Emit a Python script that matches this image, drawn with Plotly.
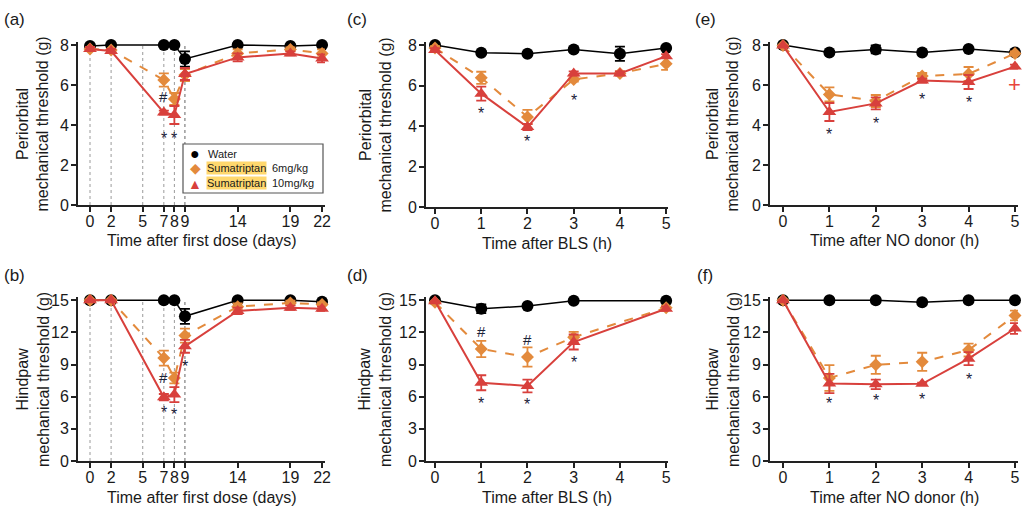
import plotly.graph_objects as go

W, H = 1036, 521

# ---------------- data ----------------
# (a) Periorbital, days after first dose
days = [0, 2, 7, 8, 9, 14, 19, 22]
dose_days = [0, 2, 5, 7, 8, 9]
a_water = [7.95, 8.0, 8.0, 8.0, 7.3, 8.0, 7.95, 8.0]
a_water_err = [0, 0, 0, 0, 0.38, 0, 0, 0]
a_s6 = [7.8, 7.75, 6.25, 5.3, 6.5, 7.58, 7.78, 7.58]
a_s6_err = [0.05, 0.05, 0.33, 0.3, 0.3, 0.2, 0.1, 0.2]
a_s10 = [7.8, 7.7, 4.62, 4.5, 6.55, 7.38, 7.58, 7.33]
a_s10_err = [0.1, 0.1, 0.1, 0.45, 0.3, 0.2, 0.1, 0.2]

# (b) Hindpaw, days after first dose
b_water = [15.0, 15.0, 15.0, 15.0, 13.5, 15.0, 15.0, 14.85]
b_water_err = [0, 0, 0, 0, 0.7, 0, 0, 0.1]
b_s6 = [15.0, 15.0, 9.6, 7.75, 11.7, 14.4, 14.75, 14.6]
b_s6_err = [0, 0, 0.7, 0.5, 0.65, 0.3, 0.2, 0.2]
b_s10 = [15.0, 15.0, 5.95, 6.2, 10.7, 14.0, 14.3, 14.2]
b_s10_err = [0, 0, 0.3, 0.7, 0.6, 0.3, 0.2, 0.2]

# (c) Periorbital, hours after BLS
hours = [0, 1, 2, 3, 4, 5]
c_water = [8.0, 7.62, 7.57, 7.78, 7.57, 7.85]
c_water_err = [0, 0.05, 0.05, 0.1, 0.35, 0.1]
c_s6 = [7.85, 6.38, 4.45, 6.3, 6.6, 7.07]
c_s6_err = [0.1, 0.3, 0.35, 0.1, 0.1, 0.3]
c_s10 = [7.75, 5.6, 3.95, 6.6, 6.6, 7.45]
c_s10_err = [0.1, 0.35, 0.15, 0.1, 0.1, 0.1]

# (d) Hindpaw, hours after BLS
hours_d = [0, 1, 2, 3, 5]
d_water = [15.0, 14.2, 14.45, 14.95, 14.95]
d_water_err = [0, 0.4, 0.1, 0.1, 0]
d_s6 = [14.8, 10.45, 9.7, 11.55, 14.3]
d_s6_err = [0, 0.75, 0.9, 0.5, 0.2]
d_s10 = [14.9, 7.3, 7.0, 11.1, 14.2]
d_s10_err = [0, 0.7, 0.6, 0.7, 0.2]

# (e) Periorbital, hours after NO donor
e_water = [8.0, 7.63, 7.78, 7.63, 7.8, 7.63]
e_water_err = [0, 0.05, 0.2, 0.05, 0.05, 0.05]
e_s6 = [7.97, 5.53, 5.2, 6.45, 6.55, 7.58]
e_s6_err = [0, 0.35, 0.3, 0.15, 0.35, 0.1]
e_s10 = [7.97, 4.65, 5.08, 6.22, 6.15, 6.92]
e_s10_err = [0, 0.45, 0.3, 0.1, 0.35, 0.1]

# (f) Hindpaw, hours after NO donor
f_water = [15.0, 15.0, 15.0, 14.8, 15.0, 15.0]
f_water_err = [0, 0, 0, 0, 0, 0]
f_s6 = [15.0, 7.75, 8.97, 9.25, 10.35, 13.57]
f_s6_err = [0, 1.2, 0.85, 0.85, 0.6, 0.45]
f_s10 = [15.0, 7.23, 7.15, 7.2, 9.55, 12.36]
f_s10_err = [0, 0.9, 0.45, 0.1, 0.6, 0.5]

# significance marks: (panel, x, y, text)
marks = [
    ("a", 7, 5.42, "#"), ("a", 7, 3.5, "*"), ("a", 8, 3.5, "*"),
    ("b", 7, 7.75, "#"), ("b", 7, 4.8, "*"), ("b", 8, 4.6, "*"), ("b", 9, 9.1, "*"),
    ("c", 1, 4.77, "*"), ("c", 2, 3.37, "*"), ("c", 3, 5.43, "*"),
    ("d", 1, 12.1, "#"), ("d", 2, 11.3, "#"), ("d", 1, 5.6, "*"), ("d", 2, 5.55, "*"), ("d", 3, 9.5, "*"),
    ("e", 1, 3.7, "*"), ("e", 2, 4.22, "*"), ("e", 3, 5.42, "*"), ("e", 4, 5.3, "*"),
    ("f", 1, 5.65, "*"), ("f", 2, 5.96, "*"), ("f", 3, 6.05, "*"), ("f", 4, 7.9, "*"),
]
plus_marks = [("e", 5, 6.05, "+")]

legend_drug = "Sumatriptan"
legend_doses = ["6mg/kg", "10mg/kg"]
legend_water = "Water"
x_titles = {"a": "Time after first dose (days)", "b": "Time after first dose (days)",
            "c": "Time after BLS (h)", "d": "Time after BLS (h)",
            "e": "Time after NO donor (h)", "f": "Time after NO donor (h)"}
y_titles = {"a": "Periorbital<br>mechanical threshold (g)", "b": "Hindpaw<br>mechanical threshold (g)",
            "c": "Periorbital<br>mechanical threshold (g)", "d": "Hindpaw<br>mechanical threshold (g)",
            "e": "Periorbital<br>mechanical threshold (g)", "f": "Hindpaw<br>mechanical threshold (g)"}

# ---------------- styling ----------------
FONT = "Arial, 'Liberation Sans', Helvetica, sans-serif"
TXT = "#1a1a1a"
BLACK = "#000000"
ORANGE = "#E38A3C"
RED = "#D8403C"
MARK = "#1c2338"
HILITE = "#FFD86E"

# panel pixel boxes: (left, right, top, bottom), x range, y range
panels = {
    "a": dict(ax="", box=(78, 325, 42, 205), xr=[-1.138, 22.28], yr=[0, 8.15], ytk=[0, 2, 4, 6, 8],
              xtk=[0, 2, 5, 7, 8, 9, 14, 19, 22], lab=(14, 20), ytx=33),
    "b": dict(ax="2", box=(78, 325, 297, 461), xr=[-1.138, 22.28], yr=[0, 15.3], ytk=[0, 3, 6, 9, 12, 15],
              xtk=[0, 2, 5, 7, 8, 9, 14, 19, 22], lab=(14, 275), ytx=33),
    "c": dict(ax="3", box=(426, 668, 42, 207), xr=[-0.195, 5.04], yr=[0, 8.15], ytk=[0, 2, 4, 6, 8],
              xtk=[0, 1, 2, 3, 4, 5], lab=(357, 20), ytx=375),
    "d": dict(ax="4", box=(426, 668, 297, 461), xr=[-0.195, 5.04], yr=[0, 15.3], ytk=[0, 3, 6, 9, 12, 15],
              xtk=[0, 1, 2, 3, 4, 5], lab=(357, 275), ytx=375),
    "e": dict(ax="5", box=(770, 1018, 42, 205), xr=[-0.28, 5.065], yr=[0, 8.15], ytk=[0, 2, 4, 6, 8],
              xtk=[0, 1, 2, 3, 4, 5], lab=(705, 20), ytx=723),
    "f": dict(ax="6", box=(770, 1018, 297, 461), xr=[-0.28, 5.065], yr=[0, 15.3], ytk=[0, 3, 6, 9, 12, 15],
              xtk=[0, 1, 2, 3, 4, 5], lab=(705, 275), ytx=723),
}

data = {
    "a": (days, [(a_water, a_water_err), (a_s6, a_s6_err), (a_s10, a_s10_err)]),
    "b": (days, [(b_water, b_water_err), (b_s6, b_s6_err), (b_s10, b_s10_err)]),
    "c": (hours, [(c_water, c_water_err), (c_s6, c_s6_err), (c_s10, c_s10_err)]),
    "d": (hours_d, [(d_water, d_water_err), (d_s6, d_s6_err), (d_s10, d_s10_err)]),
    "e": (hours, [(e_water, e_water_err), (e_s6, e_s6_err), (e_s10, e_s10_err)]),
    "f": (hours, [(f_water, f_water_err), (f_s6, f_s6_err), (f_s10, f_s10_err)]),
}

styles = [
    dict(color=BLACK, symbol="circle", size=12, dash="solid", lw=1.5),
    dict(color=ORANGE, symbol="diamond", size=10, dash="dash", lw=2),
    dict(color=RED, symbol="triangle-up", size=12, dash="solid", lw=2),
]

fig = go.Figure()
layout = dict(
    width=W, height=H, margin=dict(l=0, r=0, t=0, b=0, autoexpand=False),
    paper_bgcolor="white", plot_bgcolor="white",
    font=dict(family=FONT, size=16, color=TXT),
    showlegend=False,
)
annotations = []
shapes = []


def px2x(p):
    return p / W


def px2y(p):
    return 1 - p / H


def paper_text(text, x, y, size, color=TXT, xanchor="center", **kw):
    d = dict(text=text, x=px2x(x), y=px2y(y), xref="paper", yref="paper", xanchor=xanchor,
             yanchor="middle", showarrow=False, font=dict(size=size, color=color, family=FONT))
    d.update(kw)
    return d


for key, P in panels.items():
    l, r, t, b = P["box"]
    ax = P["ax"]
    xa, ya = "xaxis" + ax, "yaxis" + ax
    xref, yref = "x" + ax, "y" + ax
    common = dict(ticks="outside", ticklen=5, tickwidth=1.5, tickcolor="#222", showline=True,
                  linecolor="#222", linewidth=2, showgrid=False, zeroline=False, tickmode="array",
                  tickfont=dict(size=16, color=TXT, family=FONT), fixedrange=True, automargin=False)
    layout[xa] = dict(domain=[px2x(l), px2x(r)], range=P["xr"], anchor=yref, tickvals=P["xtk"],
                      tickangle=0, ticklabelstandoff=-4, **common)
    layout[ya] = dict(domain=[px2y(b), px2y(t)], range=P["yr"], anchor=xref, tickvals=P["ytk"],
                      ticklabelstandoff=-1, **common)

    # dose-day guide lines in (a) and (b)
    if key in ("a", "b"):
        top = 8 if key == "a" else 15
        for d in dose_days:
            shapes.append(dict(type="line", xref=xref, yref=yref, x0=d, x1=d, y0=0, y1=top,
                               line=dict(color="#9a9a9a" if d != 9 else "#666", width=1, dash="dot"),
                               layer="below"))

    xs, series = data[key]
    for (vals, errs), st in zip(series, styles):
        fig.add_trace(go.Scatter(
            x=xs, y=vals, xaxis=xref, yaxis=yref, mode="lines+markers",
            line=dict(color=st["color"], width=st["lw"], dash=st["dash"]),
            marker=dict(color=st["color"], symbol=st["symbol"], size=st["size"], line=dict(width=0)),
            error_y=dict(type="data", array=errs, visible=True, color=st["color"], thickness=1.8, width=5),
            showlegend=False, cliponaxis=False, hoverinfo="skip"))

    annotations.append(paper_text("(" + key + ")", P["lab"][0], P["lab"][1], 17))
    annotations.append(paper_text(x_titles[key], (l + r) / 2, b + 36, 16))
    annotations.append(paper_text(y_titles[key], P["ytx"], (t + b) / 2 + 1, 16, textangle=-90))

for key, x, y, txt in marks:
    ax = panels[key]["ax"]
    annotations.append(dict(text=txt, x=x, y=y, xref="x" + ax, yref="y" + ax,
                            showarrow=False, yshift=-3 if txt == "*" else 0,
                            font=dict(size=16 if txt == "*" else 15, color=MARK, family=FONT)))
for key, x, y, txt in plus_marks:
    ax = panels[key]["ax"]
    annotations.append(dict(text=txt, x=x, y=y, xref="x" + ax, yref="y" + ax,
                            showarrow=False, font=dict(size=22, color="#E8453C", family=FONT)))

# ---- legend box inside panel (a) ----
LEG_L, LEG_T, LEG_R, LEG_B = 183, 144, 323, 193
shapes.append(dict(type="rect", xref="paper", yref="paper", x0=px2x(LEG_L), x1=px2x(LEG_R),
                   y0=px2y(LEG_B), y1=px2y(LEG_T), fillcolor="white",
                   line=dict(color="#555", width=1.2), layer="above"))
row_y = [153.5, 168, 183]
sym_x, txt_x, dose_x = 195, 206, 270
glyphs = [("●", BLACK, 16, 0), ("◆", ORANGE, 14, 0), ("▲", RED, 14, 1)]
for (g, col, sz, dy), yy in zip(glyphs, row_y):
    annotations.append(paper_text(g, sym_x, yy + dy, sz, color=col))
annotations.append(paper_text(legend_water, txt_x, row_y[0], 11, xanchor="left"))
for dose, yy in zip(legend_doses, row_y[1:]):
    annotations.append(paper_text(legend_drug, txt_x, yy, 11, xanchor="left", bgcolor=HILITE, borderpad=0))
    annotations.append(paper_text(dose, dose_x, yy, 11, xanchor="left"))

layout["annotations"] = annotations
layout["shapes"] = shapes
fig.update_layout(**layout)

fig.write_html("out.html", config={"displayModeBar": False},
               post_script="document.body.style.margin='0px';")
